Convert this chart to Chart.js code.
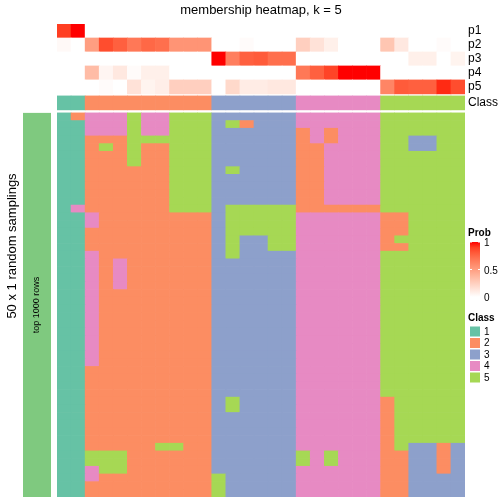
<!DOCTYPE html>
<html>
<head>
<meta charset="utf-8">
<script src="https://cdn.jsdelivr.net/npm/chart.js@4"></script>
<style>
  html, body { margin: 0; padding: 0; background: #fff; }
  #wrap { width: 504px; height: 504px; }
</style>
</head>
<body>
<div id="wrap"><canvas id="heat" width="504" height="504"></canvas></div>
<script>
// 29 columns (samples), class of each column
const columns = ['s1','s2','s3','s4','s5','s6','s7','s8','s9','s10','s11','s12','s13','s14','s15',
  's16','s17','s18','s19','s20','s21','s22','s23','s24','s25','s26','s27','s28','s29'];
const classRow = [1,1,2,2,2,2,2,2,2,2,2,3,3,3,3,3,3,4,4,4,4,4,4,5,5,5,5,5,5];

// membership probabilities
const p1 = [0.9,1,0,0,0,0,0,0,0,0,0,0,0,0,0,0,0,0,0,0,0,0,0,0,0,0,0,0,0];
const p2 = [0.03,0,0.5,0.85,0.78,0.68,0.75,0.72,0.55,0.55,0.55,0,0,0.02,0,0,0,0.25,0.15,0.08,0,0,0,0.3,0.12,0,0,0.02,0];
const p3 = [0,0,0,0,0,0,0,0,0,0,0,1,0.65,0.78,0.8,0.72,0.72,0,0,0,0,0,0,0,0,0.08,0.08,0,0.06];
const p4 = [0,0,0.35,0.05,0.12,0.02,0.08,0.08,0,0,0,0,0,0,0,0,0,0.68,0.78,0.88,1,1,1,0,0,0,0,0,0];
const p5 = [0,0,0,0.02,0,0.15,0.06,0.09,0.25,0.25,0.25,0,0.2,0.1,0.1,0.12,0.12,0,0,0,0,0,0,0.62,0.8,0.78,0.78,0.95,0.85];

// 50 random samplings (top row first), one digit per column = class
const samplings = [
  '12444544555333333444444555555',
  '11444544555352333444444555555',
  '11444544555333333242444555555',
  '11222555555333333242444553355',
  '11252522555333333224444553355',
  '11222522555333333224444555555',
  '11222522555333333224444555555',
  '11222222555353333224444555555',
  '11222222555333333224444555555',
  '11222222555333333224444555555',
  '11222222555333333224444555555',
  '11222222555333333224444555555',
  '14222222555355555222222555555',
  '11422222222355555444444225555',
  '11422222222355555444444225555',
  '11222222222355555444444225555',
  '11222222222353355444444255555',
  '11222222222353355444444225555',
  '11422222222353333444444555555',
  '11424222222333333444444555555',
  '11424222222333333444444555555',
  '11424222222333333444444555555',
  '11424222222333333444444555555',
  '11422222222333333444444555555',
  '11422222222333333444444555555',
  '11422222222333333444444555555',
  '11422222222333333444444555555',
  '11422222222333333444444555555',
  '11422222222333333444444555555',
  '11422222222333333444444555555',
  '11422222222333333444444555555',
  '11422222222333333444444555555',
  '11422222222333333444444555555',
  '11222222222333333444444555555',
  '11222222222333333444444555555',
  '11222222222333333444444555555',
  '11222222222333333444444555555',
  '11222222222353333444444255555',
  '11222222222353333444444255555',
  '11222222222333333444444255555',
  '11222222222333333444444255555',
  '11222222222333333444444255555',
  '11222222222333333444444255555',
  '11222225522333333444444253323',
  '11555222222333333545444223323',
  '11555222222333333545444223323',
  '11455222222333333444444223323',
  '11422222222533333444444223333',
  '11222222222533333444444223333',
  '11222222222533333444444223333'
];

const classColors = ['#66C2A5','#FC8D62','#8DA0CB','#E78AC3','#A6D854'];
const classNames = ['1','2','3','4','5'];
const probTicks = ['0','0.5','1'];

// white -> red in LAB space
function labToRgb(L, a, b) {
  let y = (L + 16) / 116, x = a / 500 + y, z = y - b / 200;
  const f = t => (t * t * t > 0.008856 ? t * t * t : (t - 16 / 116) / 7.787);
  x = 0.95047 * f(x); y = f(y); z = 1.08883 * f(z);
  const r = x * 3.2406 - y * 1.5372 - z * 0.4986;
  const g = -x * 0.9689 + y * 1.8758 + z * 0.0415;
  const bl = x * 0.0557 - y * 0.2040 + z * 1.0570;
  const gam = c => (c > 0.0031308 ? 1.055 * Math.pow(c, 1 / 2.4) - 0.055 : 12.92 * c);
  return [r, g, bl].map(c => Math.round(Math.max(0, Math.min(1, gam(c))) * 255));
}
function probColor(v) {
  const L = 100 + (53.24 - 100) * v, A = 80.09 * v, B = 67.2 * v;
  const c = labToRgb(L, A, B);
  return 'rgb(' + c.join(',') + ')';
}

const annH = 1.82;   // annotation row height in body-row units
const gapClass = 0.39;
const gapAnn = 0.26;

const datasets = [];
for (let r = samplings.length - 1; r >= 0; r--) {
  datasets.push({
    label: 'sampling ' + (r + 1),
    data: columns.map(() => 1),
    backgroundColor: samplings[r].split('').map(d => classColors[+d - 1])
  });
}
datasets.push({ label: 'gap1', data: columns.map(() => gapClass), backgroundColor: 'rgba(0,0,0,0)' });
datasets.push({ label: 'Class', data: columns.map(() => annH), backgroundColor: classRow.map(c => classColors[c - 1]) });
datasets.push({ label: 'gap2', data: columns.map(() => gapAnn), backgroundColor: 'rgba(0,0,0,0)' });
const probRows = [['p5', p5], ['p4', p4], ['p3', p3], ['p2', p2], ['p1', p1]];
probRows.forEach(([name, vals]) => {
  datasets.push({ label: name, data: columns.map(() => annH), backgroundColor: vals.map(probColor) });
});
const total = samplings.length + gapClass + gapAnn + annH * 6;

const FONT = '"Liberation Sans", Arial, sans-serif';

const decor = {
  id: 'decor',
  afterDraw(chart) {
    const ctx = chart.ctx;
    const ys = chart.scales.y;
    const area = chart.chartArea;
    const nb = samplings.length;
    const bodyTop = ys.getPixelForValue(nb), bodyBot = ys.getPixelForValue(0);
    ctx.save();
    // row annotation strip on the left
    ctx.fillStyle = '#7FC97F';
    ctx.fillRect(23, bodyTop, 28, bodyBot - bodyTop);
    ctx.fillStyle = '#000';
    ctx.textAlign = 'center';
    ctx.textBaseline = 'middle';
    ctx.save();
    ctx.translate(37, (bodyTop + bodyBot) / 2);
    ctx.rotate(-Math.PI / 2);
    ctx.font = '9px ' + FONT;
    ctx.fillText('top 1000 rows', 0, 0);
    ctx.restore();
    ctx.save();
    ctx.translate(12, 246);
    ctx.rotate(-Math.PI / 2);
    ctx.font = '13px ' + FONT;
    ctx.fillText('50 x 1 random samplings', 0, 0);
    ctx.restore();

    // annotation row names
    ctx.textAlign = 'left';
    ctx.font = '12px ' + FONT;
    let base = nb + gapClass;
    ctx.fillText('Class', area.right + 3, ys.getPixelForValue(base + annH / 2));
    base += annH + gapAnn;
    probRows.forEach(([name]) => {
      ctx.fillText(name, area.right + 3, ys.getPixelForValue(base + annH / 2));
      base += annH;
    });

    // Prob legend
    ctx.font = 'bold 10px ' + FONT;
    ctx.fillText('Prob', 468, 233);
    const gTop = 242, gBot = 297;
    const grad = ctx.createLinearGradient(0, gBot, 0, gTop);
    for (let i = 0; i <= 10; i++) grad.addColorStop(i / 10, probColor(i / 10));
    ctx.fillStyle = grad;
    ctx.fillRect(470, gTop, 10, gBot - gTop);
    ctx.strokeStyle = '#fff';
    ctx.lineWidth = 1;
    probTicks.forEach((t, i) => {
      const yy = gBot - (gBot - gTop) * (+t);
      ctx.beginPath();
      ctx.moveTo(470, yy); ctx.lineTo(472, yy);
      ctx.moveTo(478, yy); ctx.lineTo(480, yy);
      ctx.stroke();
    });
    ctx.fillStyle = '#000';
    ctx.font = '10px ' + FONT;
    probTicks.forEach(t => {
      const yy = gBot - (gBot - gTop) * (+t);
      ctx.fillText(t, 484, yy + 1.5);
    });

    // Class legend
    ctx.font = 'bold 10px ' + FONT;
    ctx.fillText('Class', 468, 318);
    ctx.font = '10px ' + FONT;
    classNames.forEach((n, i) => {
      const yy = 331.5 + i * 11.5;
      ctx.fillStyle = classColors[i];
      ctx.fillRect(470, yy - 5, 10, 10);
      ctx.fillStyle = '#000';
      ctx.fillText(n, 484, yy + 0.5);
    });
    ctx.restore();
  }
};

new Chart(document.getElementById('heat').getContext('2d'), {
  type: 'bar',
  data: { labels: columns, datasets: datasets },
  options: {
    responsive: false,
    animation: false,
    events: [],
    layout: { padding: { left: 57, right: 39, top: 0, bottom: 7 } },
    datasets: { bar: { categoryPercentage: 1, barPercentage: 1, borderWidth: 0 } },
    scales: {
      x: { stacked: true, display: false, grid: { display: false } },
      y: { stacked: true, display: false, min: 0, max: total, grid: { display: false } }
    },
    plugins: {
      legend: { display: false },
      tooltip: { enabled: false },
      title: {
        display: true,
        text: 'membership heatmap, k = 5',
        color: '#000',
        font: { family: FONT, size: 13, weight: 'normal' },
        padding: { top: 3, bottom: 5.4 }
      }
    }
  },
  plugins: [decor]
});
</script>
</body>
</html>
